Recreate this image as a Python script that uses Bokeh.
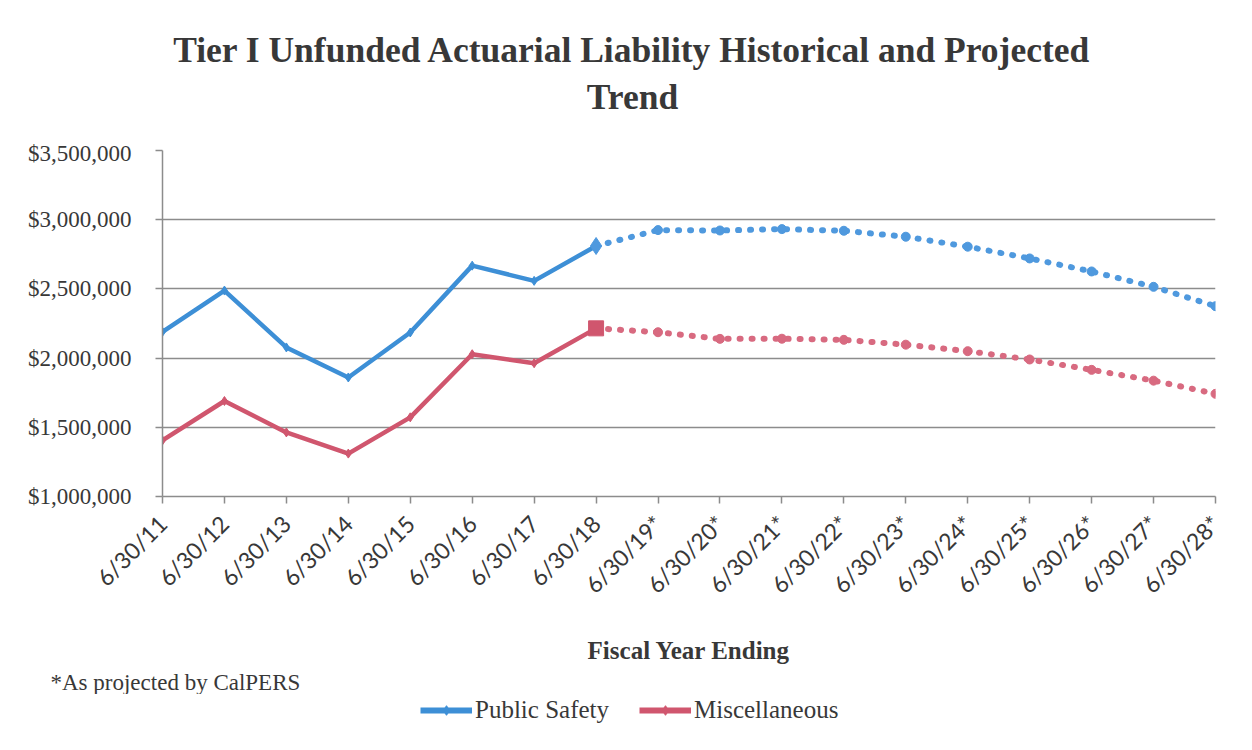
from bokeh.plotting import figure
from bokeh.layouts import column
from bokeh.models import (FixedTicker, NumeralTickFormatter, Label, Legend, LegendItem, Range1d, Title)
from bokeh.embed import file_html
from bokeh.resources import INLINE

categories = ["6/30/11", "6/30/12", "6/30/13", "6/30/14", "6/30/15", "6/30/16", "6/30/17", "6/30/18",
              "6/30/19*", "6/30/20*", "6/30/21*", "6/30/22*", "6/30/23*", "6/30/24*", "6/30/25*",
              "6/30/26*", "6/30/27*", "6/30/28*"]
public_safety = [2190000, 2488000, 2077000, 1860000, 2185000, 2668000, 2558000, 2810000,
                 2925000, 2922000, 2932000, 2920000, 2877000, 2805000, 2720000, 2626000, 2515000, 2375000]
miscellaneous = [1405000, 1690000, 1463000, 1310000, 1572000, 2028000, 1963000, 2215000,
                 2187000, 2139000, 2140000, 2132000, 2097000, 2050000, 1990000, 1915000, 1837000, 1742000]
y_ticks = [1000000, 1500000, 2000000, 2500000, 3000000, 3500000]
series_names = ["Public Safety", "Miscellaneous"]
title_lines = ["Tier I Unfunded Actuarial Liability Historical and Projected", "Trend"]
x_title = "Fiscal Year Ending"
footnote = "*As projected by CalPERS"
n_hist = 8  # historical points (through 6/30/18)

BLUE = "#3d8fd6"
BLUE_P = "#4f99de"
RED = "#d0566e"
RED_P = "#d86a80"
TXT = "#383838"
GRID = "#8c8c8c"
SERIF = "Liberation Serif"
W = 1248
FRAME_L, FRAME_R = 162, 1215  # page pixels of the plot frame (shared by all strips)


def blank(h):
    f = figure(width=W, height=h, output_backend="svg", toolbar_location=None,
               x_range=Range1d(FRAME_L, FRAME_R), y_range=Range1d(0, h),
               x_axis_type=None, y_axis_type=None, min_border=0)
    f.grid.visible = False
    f.outline_line_color = None
    f.border_fill_color = "white"
    f.background_fill_color = "white"
    return f


# ---- title strip ----
top = blank(140)
top.add_layout(Label(x=632, y=91, text=title_lines[0], text_align="center", text_baseline="alphabetic",
                     text_font=SERIF, text_font_style="bold", text_font_size="35.5px", text_color=TXT))
top.add_layout(Label(x=632, y=44, text=title_lines[1], text_align="center", text_baseline="alphabetic",
                     text_font=SERIF, text_font_style="bold", text_font_size="35.5px", text_color=TXT))

# ---- main chart ----
xs = list(range(len(categories)))
p = figure(width=W, height=554, output_backend="svg", toolbar_location=None,
           x_range=Range1d(0, len(categories) - 1), y_range=Range1d(1000000, 3500000),
           min_border_left=FRAME_L, min_border_right=W - FRAME_R, min_border_top=10, min_border_bottom=198)
p.outline_line_color = None
p.background_fill_color = "white"
p.border_fill_color = "white"

p.xaxis.ticker = FixedTicker(ticks=xs)
p.xaxis.major_label_overrides = {i: c for i, c in enumerate(categories)}
p.xaxis.major_label_orientation = 0.785398
p.xaxis.major_label_text_font = "Lato"
p.xaxis.major_label_text_font_size = "23px"
p.xaxis.major_label_text_color = TXT
p.xaxis.major_label_standoff = 16
p.xaxis.minor_tick_line_color = None
p.xaxis.major_tick_in = 0
p.xaxis.major_tick_out = 7
p.xaxis.axis_line_color = GRID
p.xaxis.axis_line_width = 1.5
p.xaxis.major_tick_line_color = GRID
p.xaxis.major_tick_line_width = 1.5
p.xaxis.axis_label = x_title
p.xaxis.axis_label_text_font = SERIF
p.xaxis.axis_label_text_font_style = "bold"
p.xaxis.axis_label_text_font_size = "25px"
p.xaxis.axis_label_text_color = TXT
p.xaxis.axis_label_standoff = 26

p.yaxis.ticker = FixedTicker(ticks=y_ticks)
p.yaxis.formatter = NumeralTickFormatter(format="$0,0")
p.yaxis.major_label_text_font = SERIF
p.yaxis.major_label_text_font_size = "23px"
p.yaxis.major_label_text_color = TXT
p.yaxis.major_label_standoff = 24
p.yaxis.minor_tick_line_color = None
p.yaxis.major_tick_in = 0
p.yaxis.major_tick_out = 7
p.yaxis.axis_line_color = GRID
p.yaxis.axis_line_width = 1.5
p.yaxis.major_tick_line_color = GRID
p.yaxis.major_tick_line_width = 1.5

p.xgrid.grid_line_color = None
p.ygrid.grid_line_color = GRID
p.ygrid.grid_line_width = 1.5

hx = xs[:n_hist]
px = xs[n_hist - 1:]
# projected (dotted)
p.line(px, public_safety[n_hist - 1:], line_color=BLUE_P, line_width=6, line_dash="1 11", line_cap="round")
p.line(px, miscellaneous[n_hist - 1:], line_color=RED_P, line_width=6, line_dash="1 11", line_cap="round")
p.scatter(xs[n_hist:], public_safety[n_hist:], marker="circle", size=9, color=BLUE_P)
p.scatter(xs[n_hist:], miscellaneous[n_hist:], marker="circle", size=9, color=RED_P)
# historical (solid)
p.line(hx, public_safety[:n_hist], line_color=BLUE, line_width=4.5)
p.line(hx, miscellaneous[:n_hist], line_color=RED, line_width=4.5)
p.scatter(hx, public_safety[:n_hist], marker="diamond", size=9, color=BLUE)
p.scatter(hx, miscellaneous[:n_hist], marker="diamond", size=9, color=RED)
p.scatter([xs[n_hist - 1]], [public_safety[n_hist - 1]], marker="diamond", size=17, color=BLUE_P)
p.scatter([xs[n_hist - 1]], [miscellaneous[n_hist - 1]], marker="square", size=15, color=RED)

# footnote under the axis title
p.add_layout(Title(text=footnote, align="left", offset=50 - FRAME_L, standoff=0,
                   text_font=SERIF, text_font_style="normal", text_font_size="23px",
                   text_color=TXT), "below")

# ---- bottom strip: legend ----
BOT_H = 746 - 140 - 554
bot = blank(BOT_H)
l1 = bot.line(xs[:2], public_safety[:2], line_color=BLUE, line_width=6)
m1 = bot.scatter(xs[:2], public_safety[:2], marker="diamond", size=11, color=BLUE)
l2 = bot.line(xs[:2], miscellaneous[:2], line_color=RED, line_width=6)
m2 = bot.scatter(xs[:2], miscellaneous[:2], marker="diamond", size=11, color=RED)
legend = Legend(items=[LegendItem(label=series_names[0], renderers=[l1, m1]),
                       LegendItem(label=series_names[1], renderers=[l2, m2])],
                location=(420 - FRAME_L, 22), orientation="horizontal",
                padding=0, margin=0, spacing=30, glyph_width=52, glyph_height=24,
                label_standoff=3, label_height=24,
                label_text_font=SERIF, label_text_font_size="25px", label_text_color=TXT,
                border_line_color=None, background_fill_alpha=0)
bot.add_layout(legend, "center")

layout = column(top, p, bot, spacing=0)

open("out.html", "w").write(file_html(layout, INLINE))
